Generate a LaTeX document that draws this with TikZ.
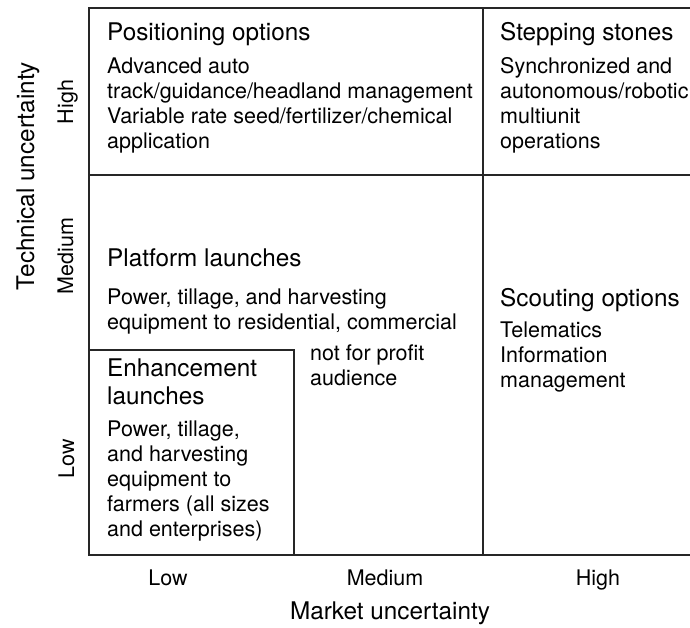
\documentclass[tikz,border=0pt]{standalone}
\usepackage{fontspec}
\setmainfont{TeX Gyre Heros}
\usetikzlibrary{positioning}

\begin{document}
\begin{tikzpicture}[
  x=1pt, y=-1pt,
  % Text styles (multi-line nodes sit on the baseline of their last line)
  head/.style={anchor=base west, inner sep=0pt, align=left, font=\fontsize{24.3}{28}\selectfont},
  body/.style={anchor=base west, inner sep=0pt, align=left, font=\fontsize{21.5}{25.2}\selectfont},
  axis/.style={anchor=base, inner sep=0pt, font=\fontsize{21.5}{25}\selectfont},
  title/.style={anchor=base, inner sep=0pt, font=\fontsize{24.3}{28}\selectfont},
  % Line styles
  frame/.style={line width=1.4pt, black!85},
]
\useasboundingbox (0,0) rectangle (690,627);

% === GRID ===
\coordinate (TL) at (89,8);
\coordinate (TR) at (690,8);
\coordinate (BL) at (89,555);
\coordinate (BR) at (690,555);
\coordinate (ML) at (89,175);
\coordinate (MR) at (690,175);
\coordinate (VT) at (483,8);
\coordinate (VB) at (483,555);
\coordinate (EL) at (89,350);
\coordinate (EC) at (294,350);
\coordinate (EB) at (294,555);

\draw[frame] (TR) -- (TL) -- (BL) -- (BR);
\draw[frame] (ML) -- (MR);
\draw[frame] (VT) -- (VB);
\draw[frame] (EL) -- (EC) -- (EB);

% === TOP ROW ===
\node[head] (posT) at (107,40) {Positioning options};
\node[body] (posB) at (107,148.6) {Advanced auto\\track/guidance/headland management\\Variable rate seed/fertilizer/chemical\\application};

\node[head] (stepT) at (500,40) {Stepping stones};
\node[body] (stepB) at (500,148.6) {Synchronized and\\autonomous/robotic\\multiunit\\operations};

% === MIDDLE / LOW ===
\node[head] (platT) at (107,266) {Platform launches};
\node[body] (platB) at (107,329.2) {Power, tillage, and harvesting\\equipment to residential, commercial};
\node[body] (platC) at (310,385.2) {not for profit\\audience};

\node[head] (scoutT) at (500,306) {Scouting options};
\node[body] (scoutB) at (500,387.4) {Telematics\\Information\\management};

\node[head] (enhT) at (107,404) {Enhancement\\launches};
\node[body] (enhB) at (107,536.8) {Power, tillage,\\and harvesting\\equipment to\\farmers (all sizes\\and enterprises)};

% === AXES ===
\node[axis] (xLow) at (168,585) {Low};
\node[axis] (xMed) at (385,585) {Medium};
\node[axis] (xHigh) at (598,585) {High};
\node[title] (xTitle) at (390,619) {Market uncertainty};

\node[axis, rotate=90] (yHigh) at (73,102) {High};
\node[axis, rotate=90] (yMed) at (73,256) {Medium};
\node[axis, rotate=90] (yLow) at (74,459) {Low};
\node[title, rotate=90] (yTitle) at (34,176) {Technical uncertainty};

\end{tikzpicture}
\end{document}
